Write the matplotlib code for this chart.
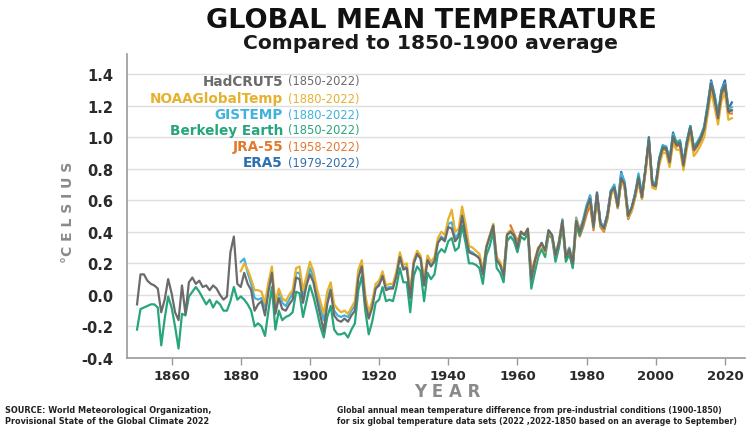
import numpy as np
import matplotlib
matplotlib.use("Agg")
import matplotlib.pyplot as plt

plt.rcParams['font.family'] = ['DejaVu Sans']
plt.rcParams['axes.unicode_minus'] = False

# annual anomalies in deg C vs 1850-1900, one list per data set

had_years = np.arange(1850, 2023)
hadcrut5 = [
    -0.06, 0.13, 0.13, 0.09, 0.07, 0.06, 0.04, -0.11, -0.03, 0.10,
    0.01, -0.11, -0.16, 0.06, -0.12, 0.08, 0.11, 0.07, 0.09, 0.05,
    0.06, 0.03, 0.06, 0.04, 0.00, -0.03, -0.01, 0.27, 0.37, 0.07,
    0.05, 0.14, 0.07, 0.03, -0.10, -0.06, -0.04, -0.13, 0.02, 0.14,
    -0.12, -0.02, -0.09, -0.10, -0.06, -0.03, 0.11, 0.10, -0.05, 0.06,
    0.13, 0.08, -0.03, -0.13, -0.23, -0.06, 0.03, -0.13, -0.16, -0.17,
    -0.15, -0.17, -0.13, -0.10, 0.11, 0.18, -0.05, -0.15, -0.08, 0.04,
    0.06, 0.12, 0.03, 0.04, 0.04, 0.12, 0.24, 0.16, 0.17, -0.02,
    0.20, 0.26, 0.23, 0.06, 0.22, 0.18, 0.21, 0.33, 0.36, 0.34,
    0.43, 0.42, 0.34, 0.37, 0.50, 0.38, 0.27, 0.26, 0.25, 0.23,
    0.13, 0.30, 0.37, 0.44, 0.22, 0.19, 0.12, 0.38, 0.40, 0.38,
    0.30, 0.40, 0.38, 0.42, 0.10, 0.21, 0.29, 0.33, 0.28, 0.41,
    0.38, 0.25, 0.33, 0.47, 0.24, 0.29, 0.20, 0.47, 0.40, 0.46,
    0.55, 0.61, 0.44, 0.64, 0.45, 0.42, 0.50, 0.65, 0.68, 0.56,
    0.74, 0.70, 0.50, 0.55, 0.63, 0.74, 0.62, 0.79, 0.98, 0.70,
    0.69, 0.85, 0.93, 0.93, 0.84, 1.00, 0.95, 0.96, 0.82, 0.96,
    1.06, 0.92, 0.95, 0.99, 1.05, 1.18, 1.34, 1.24, 1.12, 1.28,
    1.33, 1.16, 1.17,
]

berk_years = np.arange(1850, 2023)
berkeley = [
    -0.22, -0.09, -0.08, -0.07, -0.06, -0.06, -0.08, -0.32, -0.15, -0.01,
    -0.08, -0.20, -0.34, -0.12, -0.13, -0.01, 0.02, 0.05, 0.02, -0.02,
    -0.06, -0.03, -0.08, -0.04, -0.06, -0.10, -0.10, -0.04, 0.05, -0.03,
    -0.01, -0.03, -0.06, -0.10, -0.20, -0.18, -0.20, -0.26, -0.10, 0.05,
    -0.22, -0.10, -0.16, -0.14, -0.13, -0.11, 0.02, 0.01, -0.14, -0.04,
    0.06, -0.01, -0.10, -0.20, -0.27, -0.14, -0.07, -0.22, -0.25, -0.25,
    -0.24, -0.27, -0.22, -0.18, 0.03, 0.12, -0.10, -0.25, -0.17, -0.05,
    -0.03, 0.05, -0.04, -0.03, -0.04, 0.05, 0.17, 0.08, 0.08, -0.11,
    0.12, 0.18, 0.15, -0.04, 0.14, 0.10, 0.13, 0.26, 0.29, 0.27,
    0.34, 0.36, 0.28, 0.30, 0.44, 0.33, 0.20, 0.20, 0.19, 0.17,
    0.07, 0.25, 0.31, 0.40, 0.17, 0.14, 0.08, 0.34, 0.37, 0.34,
    0.27, 0.37, 0.35, 0.39, 0.04, 0.14, 0.24, 0.29, 0.24, 0.38,
    0.36, 0.21, 0.30, 0.45, 0.21, 0.26, 0.17, 0.45, 0.38, 0.45,
    0.54, 0.60, 0.43, 0.63, 0.44, 0.41, 0.49, 0.64, 0.68, 0.55,
    0.73, 0.69, 0.49, 0.54, 0.62, 0.75, 0.61, 0.79, 0.99, 0.70,
    0.69, 0.86, 0.94, 0.93, 0.85, 1.01, 0.96, 0.97, 0.83, 0.97,
    1.07, 0.93, 0.96, 1.00, 1.06, 1.19, 1.34, 1.25, 1.13, 1.29,
    1.33, 1.17, 1.17,
]

noaa_years = np.arange(1880, 2023)
noaa = [
    0.15, 0.20, 0.16, 0.10, 0.03, 0.03, 0.02, -0.05, 0.08, 0.18,
    -0.05, 0.04, -0.02, -0.04, 0.00, 0.03, 0.17, 0.18, 0.03, 0.12,
    0.21, 0.15, 0.04, -0.04, -0.12, 0.02, 0.08, -0.06, -0.09, -0.11,
    -0.10, -0.12, -0.08, -0.04, 0.16, 0.22, 0.00, -0.11, -0.04, 0.07,
    0.09, 0.15, 0.06, 0.07, 0.07, 0.15, 0.27, 0.19, 0.20, 0.02,
    0.22, 0.28, 0.25, 0.10, 0.25, 0.21, 0.24, 0.36, 0.40, 0.38,
    0.48, 0.54, 0.40, 0.42, 0.56, 0.45, 0.31, 0.30, 0.28, 0.26,
    0.16, 0.31, 0.38, 0.45, 0.24, 0.21, 0.14, 0.39, 0.41, 0.38,
    0.31, 0.40, 0.38, 0.42, 0.11, 0.20, 0.28, 0.32, 0.27, 0.40,
    0.37, 0.25, 0.34, 0.47, 0.25, 0.29, 0.21, 0.48, 0.41, 0.46,
    0.54, 0.59, 0.45, 0.63, 0.44, 0.41, 0.49, 0.64, 0.66, 0.55,
    0.72, 0.68, 0.49, 0.53, 0.61, 0.71, 0.61, 0.77, 0.95, 0.68,
    0.67, 0.82, 0.90, 0.90, 0.81, 0.96, 0.92, 0.92, 0.79, 0.93,
    1.02, 0.88, 0.91, 0.95, 1.00, 1.14, 1.29, 1.19, 1.08, 1.23,
    1.28, 1.11, 1.12,
]

giss_years = np.arange(1880, 2023)
gistemp = [
    0.21, 0.23, 0.14, 0.07, -0.02, -0.03, -0.02, -0.08, 0.06, 0.14,
    -0.08, 0.03, -0.05, -0.07, -0.03, 0.01, 0.14, 0.14, 0.00, 0.08,
    0.17, 0.11, 0.01, -0.08, -0.16, -0.02, 0.04, -0.10, -0.13, -0.14,
    -0.13, -0.14, -0.10, -0.07, 0.13, 0.19, -0.03, -0.14, -0.06, 0.05,
    0.07, 0.13, 0.04, 0.05, 0.05, 0.13, 0.25, 0.17, 0.18, 0.00,
    0.20, 0.26, 0.23, 0.08, 0.23, 0.19, 0.22, 0.34, 0.37, 0.35,
    0.45, 0.46, 0.36, 0.39, 0.51, 0.40, 0.28, 0.27, 0.25, 0.24,
    0.14, 0.30, 0.37, 0.44, 0.22, 0.19, 0.13, 0.38, 0.40, 0.37,
    0.30, 0.40, 0.38, 0.41, 0.10, 0.21, 0.28, 0.33, 0.28, 0.41,
    0.38, 0.26, 0.34, 0.48, 0.25, 0.30, 0.21, 0.49, 0.41, 0.48,
    0.57, 0.63, 0.45, 0.64, 0.46, 0.43, 0.51, 0.66, 0.70, 0.58,
    0.77, 0.72, 0.52, 0.55, 0.64, 0.77, 0.64, 0.80, 0.98, 0.72,
    0.71, 0.87, 0.95, 0.94, 0.86, 1.02, 0.97, 0.98, 0.84, 0.98,
    1.07, 0.94, 0.97, 1.01, 1.07, 1.21, 1.35, 1.26, 1.14, 1.30,
    1.34, 1.18, 1.19,
]

jra_years = np.arange(1958, 2023)
jra55 = [
    0.44, 0.39, 0.34, 0.40, 0.38, 0.41, 0.14, 0.22, 0.30, 0.32, 0.27, 0.39,
    0.37, 0.24, 0.31, 0.45, 0.23, 0.27, 0.18, 0.44, 0.37, 0.43,
    0.51, 0.57, 0.41, 0.62, 0.43, 0.40, 0.48, 0.63, 0.67, 0.55,
    0.73, 0.68, 0.48, 0.53, 0.62, 0.73, 0.61, 0.78, 0.97, 0.69,
    0.68, 0.84, 0.92, 0.92, 0.83, 0.99, 0.94, 0.95, 0.81, 0.95,
    1.05, 0.91, 0.94, 0.98, 1.04, 1.17, 1.32, 1.22, 1.11, 1.27,
    1.31, 1.15, 1.15,
]

era_years = np.arange(1979, 2023)
era5 = [
    0.46,
    0.55, 0.63, 0.45, 0.65, 0.46, 0.43, 0.51, 0.66, 0.69, 0.57,
    0.78, 0.70, 0.51, 0.55, 0.64, 0.75, 0.63, 0.79, 1.00, 0.71,
    0.70, 0.86, 0.94, 0.94, 0.85, 1.03, 0.96, 0.98, 0.83, 0.97,
    1.07, 0.93, 0.96, 1.00, 1.06, 1.20, 1.36, 1.27, 1.14, 1.30,
    1.36, 1.18, 1.22,
]

names = ["HadCRUT5", "NOAAGlobalTemp", "GISTEMP", "Berkeley Earth", "JRA-55", "ERA5"]
spans = ["(1850-2022)", "(1880-2022)", "(1880-2022)", "(1850-2022)", "(1958-2022)", "(1979-2022)"]
colors = ["#6b6b6b", "#e6b12e", "#3fb2de", "#27a57c", "#e27a2e", "#2f6fae"]

y_ticks = [-0.4, -0.2, 0.0, 0.2, 0.4, 0.6, 0.8, 1.0, 1.2, 1.4]
x_ticks = [1860, 1880, 1900, 1920, 1940, 1960, 1980, 2000, 2020]

W, H = 755, 431
fig = plt.figure(figsize=(W / 100, H / 100), dpi=100)
ax = fig.add_axes([127 / W, 1 - 359 / H, (745 - 127) / W, (359 - 55) / H])

# draw order: reanalyses underneath, HadCRUT5 on top
series = [
    (era_years, era5, 5),
    (giss_years, gistemp, 2),
    (jra_years, jra55, 4),
    (berk_years, berkeley, 3),
    (noaa_years, noaa, 1),
    (had_years, hadcrut5, 0),
]
for yrs, vals, i in series:
    ax.plot(yrs, vals, color=colors[i], lw=1.6, solid_joinstyle='round', zorder=3)

ax.set_xlim(1847.1, 2025.8)
ax.set_ylim(-0.4, 1.527)
ax.set_yticks(y_ticks)
ax.set_yticklabels([f"{v:.1f}" for v in y_ticks])
ax.set_xticks(x_ticks)
ax.grid(axis='y', color='#dedede', lw=1.0, zorder=0)

for s in ['top', 'right']:
    ax.spines[s].set_visible(False)
for s in ['left', 'bottom']:
    ax.spines[s].set_color('#9a9a9a')
    ax.spines[s].set_linewidth(1.2)

ax.tick_params(axis='y', length=0, pad=10, labelsize=10.5, labelcolor='#2a2a2a')
ax.tick_params(axis='x', length=5, width=1, color='#9a9a9a', pad=3, labelsize=9.5, labelcolor='#2a2a2a')
for lab in ax.get_yticklabels() + ax.get_xticklabels():
    lab.set_fontweight('bold')

# titles
fig.text(431 / W, 1 - 21 / H, "GLOBAL MEAN TEMPERATURE", ha='center', va='center',
         fontsize=19.5, fontweight='bold', color='#111111')
fig.text(430 / W, 1 - 44 / H, "Compared to 1850-1900 average", ha='center', va='center',
         fontsize=14.6, fontweight='bold', color='#1a1a1a')

# axis titles
fig.text(68 / W, 1 - 212 / H, "°C E L S I U S", rotation=90, ha='center', va='center',
         fontsize=10, fontweight='bold', color='#8a8a8a')
fig.text(447 / W, 1 - 392 / H, "Y E A R", ha='center', va='center',
         fontsize=12, fontweight='bold', color='#8a8a8a')

# legend: name right-aligned, coverage years to its right
rows_y = [82, 99, 115, 131, 147, 163]
for name, span, c, yy in zip(names, spans, colors, rows_y):
    fig.text(283 / W, 1 - yy / H, name, ha='right', va='center',
             fontsize=9.8, fontweight='bold', color=c)
    fig.text(288 / W, 1 - yy / H, span, ha='left', va='center',
             fontsize=8.3, color=c)

# footnotes
left_foot = dict(ha='left', va='center', fontsize=5.9, fontweight='bold', color='#222222')
right_foot = dict(ha='left', va='center', fontsize=5.6, fontweight='bold', color='#222222')
fig.text(5 / W, 1 - 411 / H, "SOURCE: World Meteorological Organization,", **left_foot)
fig.text(5 / W, 1 - 422 / H, "Provisional State of the Global Climate 2022", **left_foot)
fig.text(337 / W, 1 - 411 / H,
         "Global annual mean temperature difference from pre-industrial conditions (1900-1850)", **right_foot)
fig.text(337 / W, 1 - 422 / H,
         "for six global temperature data sets (2022 ,2022-1850 based on an average to September)", **right_foot)

fig.savefig("out.png", dpi=100, facecolor='white')
